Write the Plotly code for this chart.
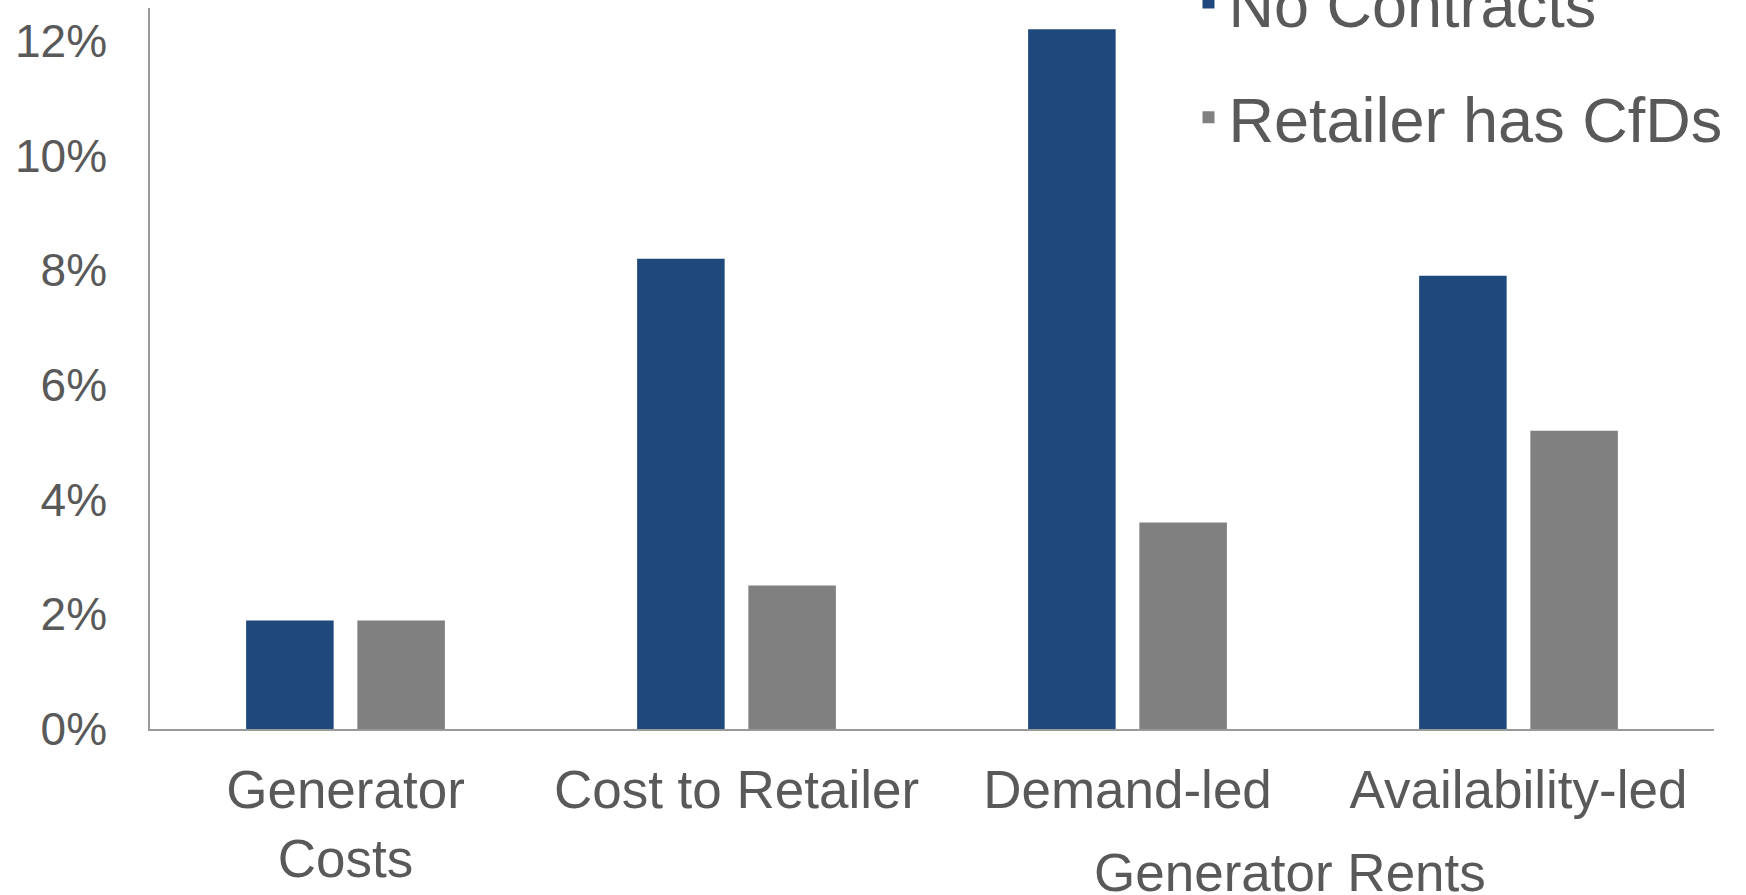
import plotly.graph_objects as go

categories = ["Generator Costs", "Cost to Retailer", "Demand-led", "Availability-led"]
tick_labels = ["Generator<br>Costs", "Cost to Retailer", "Demand-led", "Availability-led"]
no_contracts = [1.89, 8.2, 12.2, 7.9]
retailer_cfds = [1.89, 2.5, 3.6, 5.2]
y_ticks = [0, 2, 4, 6, 8, 10, 12]
y_tick_labels = ["0%", "2%", "4%", "6%", "8%", "10%", "12%"]
group_label = "Generator Rents"

FONT = "Liberation Sans, Arial, sans-serif"
TXT = "#595959"

fig = go.Figure()
fig.add_trace(go.Bar(x=categories, y=no_contracts, name="No Contracts",
                     marker=dict(color="#1F497D", line=dict(width=0)),
                     legendgroup="a"))
fig.add_trace(go.Bar(x=categories, y=retailer_cfds, name="Retailer has CfDs",
                     marker=dict(color="#808080", line=dict(width=0)),
                     legendgroup="b"))

fig.update_layout(
    width=1746, height=895, autosize=False,
    margin=dict(l=150, r=32, t=8, b=166, autoexpand=False),
    paper_bgcolor="white", plot_bgcolor="white",
    barmode="group", bargap=0.431, bargroupgap=0.213,
    font=dict(family=FONT, color=TXT),
    showlegend=True,
    legend=dict(x=0.664, xanchor="left", y=1.0735, yanchor="top",
                font=dict(size=63, color=TXT, family=FONT),
                bgcolor="rgba(0,0,0,0)", traceorder="grouped",
                tracegroupgap=30),
    annotations=[dict(text=group_label, xref="paper", yref="paper",
                      x=0.7286, y=-0.1553, xanchor="center", yanchor="top",
                      showarrow=False, font=dict(size=53, color=TXT, family=FONT))],
)
fig.update_xaxes(tickvals=categories, ticktext=tick_labels, showline=True,
                 linecolor="#999999", linewidth=1.5, ticks="", showgrid=False,
                 tickfont=dict(size=53, color=TXT, family=FONT),
                 ticklabelstandoff=14)
fig.update_yaxes(range=[0, 12.57], tickvals=y_ticks, ticktext=y_tick_labels,
                 showline=True, linecolor="#999999", linewidth=1.5, ticks="",
                 showgrid=False, zeroline=False,
                 tickfont=dict(size=46, color=TXT, family=FONT),
                 ticklabelstandoff=32)

fig.write_html("out.html")
